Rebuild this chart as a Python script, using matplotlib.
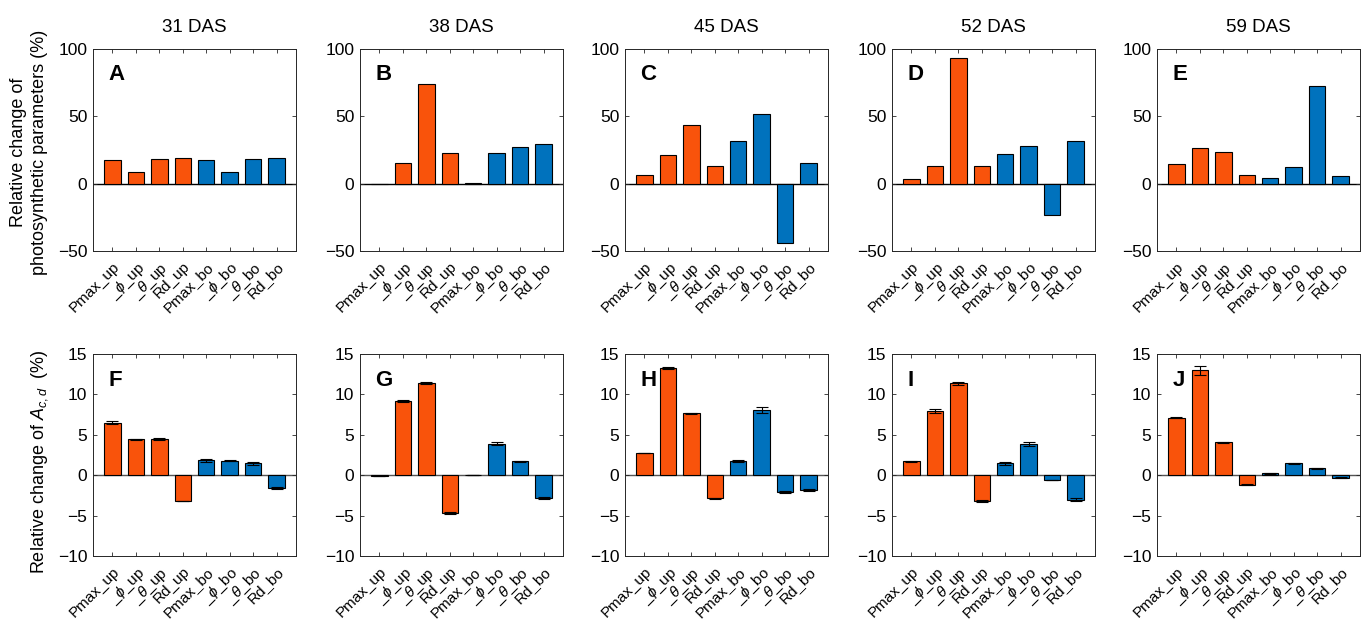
import numpy as np
import matplotlib
matplotlib.use("Agg")
import matplotlib.pyplot as plt

plt.rcParams["font.family"] = ["Liberation Sans", "DejaVu Sans"]
plt.rcParams["mathtext.fontset"] = "custom"
plt.rcParams["mathtext.rm"] = "Liberation Sans"
plt.rcParams["mathtext.it"] = "Liberation Sans:italic"

# ---- data ----
days = ["31 DAS", "38 DAS", "45 DAS", "52 DAS", "59 DAS"]
params = ["Pmax_up", r"_$\phi$_up", r"_$\theta$_up", "Rd_up",
          "Pmax_bo", r"_$\phi$_bo", r"_$\theta$_bo", "Rd_bo"]
top_letters = ["A", "B", "C", "D", "E"]
bot_letters = ["F", "G", "H", "I", "J"]

# relative change of photosynthetic parameters (%)
param_change = [
    [17.5, 8.8, 18.2, 19.0, 17.5, 8.8, 18.2, 19.0],
    [-0.4, 15.5, 74.0, 22.8, 0.6, 22.8, 27.0, 29.5],
    [6.7, 21.3, 43.8, 13.4, 31.5, 51.7, -44.0, 15.5],
    [3.5, 13.4, 93.0, 13.1, 21.8, 27.7, -23.5, 31.5],
    [14.6, 26.5, 23.5, 6.4, 4.2, 12.6, 72.5, 5.7],
]

# relative change of A_c,d (%) and its error
acd_change = [
    [6.5, 4.45, 4.5, -3.2, 1.85, 1.8, 1.45, -1.6],
    [-0.1, 9.2, 11.4, -4.7, 0.05, 3.9, 1.7, -2.85],
    [2.75, 13.3, 7.65, -2.85, 1.8, 8.1, -2.05, -1.85],
    [1.7, 7.95, 11.35, -3.2, 1.45, 3.85, -0.6, -3.05],
    [7.1, 13.0, 4.07, -1.2, 0.25, 1.45, 0.85, -0.3],
]
acd_err = [
    [0.2, 0.05, 0.1, 0.05, 0.2, 0.1, 0.15, 0.1],
    [0.05, 0.15, 0.15, 0.1, 0.02, 0.2, 0.1, 0.15],
    [0.05, 0.15, 0.08, 0.05, 0.12, 0.4, 0.1, 0.15],
    [0.05, 0.2, 0.2, 0.1, 0.2, 0.2, 0.05, 0.2],
    [0.08, 0.55, 0.05, 0.05, 0.05, 0.1, 0.05, 0.05],
]

colors = ["#F9530B"] * 4 + ["#0072BD"] * 4

W, H = 1367, 620
fig = plt.figure(figsize=(W / 100, H / 100), dpi=100)

lefts = [93, 360, 625, 892, 1157]
aw, ah = 203, 202
x = np.arange(1, 9)


def style_axes(ax, ylim, yticks, zero_color):
    ax.set_xlim(0.17, 8.83)
    ax.set_ylim(*ylim)
    ax.set_yticks(yticks)
    ax.set_xticks(x)
    ax.set_xticklabels(params, rotation=45, ha="right", rotation_mode="anchor")
    ax.axhline(0, color=zero_color, lw=1.0, zorder=1)
    ax.tick_params(direction="in", top=True, right=True, length=3,
                   width=0.6, color="#262626", pad=4)
    ax.tick_params(axis="y", labelsize=12.5)
    ax.tick_params(axis="x", labelsize=11, pad=6)
    for s in ax.spines.values():
        s.set_color("#262626")
        s.set_linewidth(0.7)


for i in range(5):
    # top row: photosynthetic parameters
    ax = fig.add_axes([lefts[i] / W, 1 - 251 / H, aw / W, ah / H])
    ax.bar(x, param_change[i], width=0.7, color=colors,
           edgecolor="black", linewidth=0.8, zorder=2)
    style_axes(ax, (-50, 100), [-50, 0, 50, 100], "black")
    ax.text(0.075, 0.925, top_letters[i], transform=ax.transAxes,
            fontsize=16, fontweight="bold", ha="left", va="top")
    fig.text((lefts[i] + aw / 2) / W, 1 - 27 / H, days[i],
             ha="center", va="center", fontsize=13.5)

    # bottom row: A_c,d
    ax = fig.add_axes([lefts[i] / W, 1 - 556 / H, aw / W, ah / H])
    ax.bar(x, acd_change[i], width=0.7, color=colors,
           edgecolor="black", linewidth=0.8, zorder=2)
    ax.errorbar(x, acd_change[i], yerr=acd_err[i], fmt="none",
                ecolor="black", elinewidth=0.8, capsize=4, capthick=0.8,
                zorder=3)
    style_axes(ax, (-10, 15), [-10, -5, 0, 5, 10, 15], "#555555")
    ax.text(0.075, 0.92, bot_letters[i], transform=ax.transAxes,
            fontsize=16, fontweight="bold", ha="left", va="top")

fig.text(29 / W, 1 - 152 / H,
         "Relative change of\nphotosynthetic parameters (%)",
         rotation=90, ha="center", va="center", fontsize=13,
         multialignment="center", linespacing=1.25)
fig.text(40 / W, 1 - 462 / H, r"Relative change of $A_{c,d}$  (%)",
         rotation=90, ha="center", va="center", fontsize=13)

fig.savefig("out.png", dpi=100)
